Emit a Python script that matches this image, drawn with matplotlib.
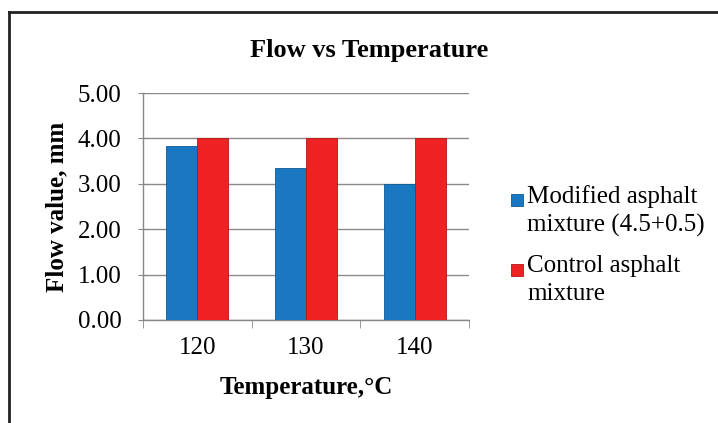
import matplotlib
matplotlib.use("Agg")
import matplotlib.pyplot as plt
from matplotlib.lines import Line2D
from matplotlib.patches import Rectangle
import numpy as np

categories = ["120", "130", "140"]
modified = [3.84, 3.35, 3.00]
control = [4.00, 4.00, 4.00]
series_names = ["Modified asphalt\nmixture (4.5+0.5)", "Control asphalt\nmixture"]
yticks = [0, 1, 2, 3, 4, 5]

plt.rcParams['font.family'] = ['Liberation Serif', 'DejaVu Serif']

W, H = 718, 423
fig = plt.figure(figsize=(W/100, H/100), dpi=100)
ax = fig.add_axes([143/W, 1-320/H, (469-143)/W, (320-93)/H])

x = np.arange(len(categories))
bw = 0.285
colors = ['#1a78c2', '#ee2222']
edges = ['#0d5a96', '#b51515']
b1 = ax.bar(x - bw/2, modified, bw, color=colors[0], edgecolor=edges[0], linewidth=0.6, zorder=3)
b2 = ax.bar(x + bw/2, control, bw, color=colors[1], edgecolor=edges[1], linewidth=0.6, zorder=3)

ax.set_xlim(-0.5, 2.5)
ax.set_ylim(0, 5)
ax.set_yticks(yticks)
ax.set_yticklabels([f"{v:.2f}" for v in yticks], fontsize=18)
ax.set_xticks(x)
ax.set_xticklabels(categories, fontsize=18)
ax.set_xticks([-0.5, 0.5, 1.5, 2.5], minor=True)
ax.tick_params(axis='x', which='major', length=0, pad=12)
ax.tick_params(axis='x', which='minor', length=6, color='#888888', direction='out')
ax.tick_params(axis='y', length=7, color='#888888', direction='inout', pad=12)
ax.grid(axis='y', color='#8a8a8a', linewidth=1.0, zorder=0)
for s in ['top', 'right']:
    ax.spines[s].set_visible(False)
for s in ['left', 'bottom']:
    ax.spines[s].set_color('#888888')
    ax.spines[s].set_linewidth(1.0)

ax.set_ylabel("Flow value, mm", fontsize=18, fontweight='bold')
ax.yaxis.set_label_coords((57-143)/(469-143), 0.5)
ax.set_xlabel("Temperature,°C", fontsize=18, fontweight='bold')
ax.xaxis.set_label_coords(0.5, -(387-320)/(320-93))
ax.xaxis.label.set_va('center')
ax.yaxis.label.set_va('center')

fig.text(369/W, 1-50/H, "Flow vs Temperature", fontsize=19, fontweight='bold',
         ha='center', va='center')

# legend drawn manually: marker aligned with the first line of each entry
first_line_y = [200, 270]
for name, col, ec, ly in zip(series_names, colors, edges, first_line_y):
    fig.add_artist(Rectangle((511/W, 1-(ly+6)/H), 12/W, 12/H, facecolor=col, edgecolor=ec,
                             lw=0.6, transform=fig.transFigure))
    fig.text(527/W, 1-(ly-15)/H, name, fontsize=18, ha='left', va='top', linespacing=1.35)

# outer frame (cut at right and bottom)
fig.add_artist(Line2D([9/W, 1], [1-12/H, 1-12/H], color='#222222', lw=2, transform=fig.transFigure))
fig.add_artist(Line2D([9/W, 9/W], [1-12/H, 0], color='#222222', lw=2, transform=fig.transFigure))

fig.savefig("out.png", dpi=100)
